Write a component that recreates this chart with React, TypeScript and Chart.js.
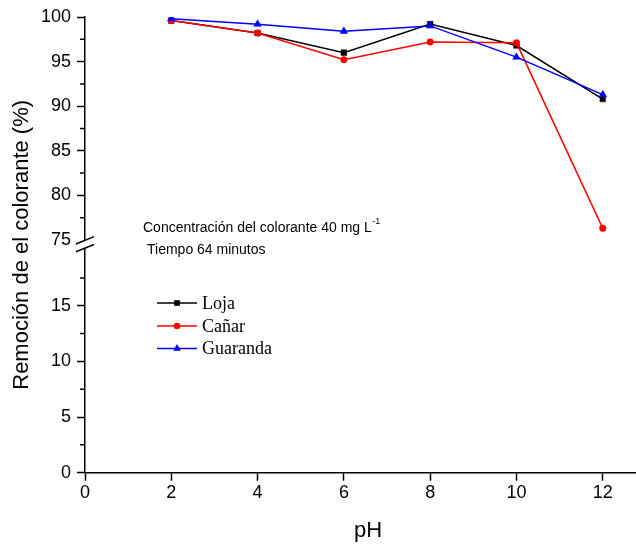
import React, { useEffect, useRef } from 'react';
import { Chart, registerables } from 'chart.js';

Chart.register(...registerables);

const phValues = [2, 4, 6, 8, 10, 12];
const lojaValues = [99.6, 98.2, 96.0, 99.2, 96.8, 90.8];
const canarValues = [99.6, 98.2, 95.2, 97.2, 97.1, 76.3];
const guarandaValues = [99.8, 99.2, 98.4, 99.0, 95.5, 91.3];

const seriesNames = ['Loja', 'Cañar', 'Guaranda'];
const seriesColors = ['#000000', '#ff0000', '#0000ff'];
const seriesMarkers = ['rect', 'circle', 'triangle'];

const xTickValues = [0, 2, 4, 6, 8, 10, 12];
const upperTickValues = [75, 80, 85, 90, 95, 100];
const lowerTickValues = [0, 5, 10, 15];
const upperMinorValues = [77.5, 82.5, 87.5, 92.5, 97.5];
const lowerMinorValues = [2.5, 7.5, 12.5, 17.5];

const yTitle = 'Remoción de el colorante (%)';
const xTitle = 'pH';
const noteLine1 = 'Concentración del colorante 40 mg L';
const noteSup = '-1';
const noteLine2 = 'Tiempo 64 minutos';

const SANS = '"Liberation Sans", Arial, sans-serif';
const SERIF = '"Liberation Serif", "Times New Roman", serif';

function drawMarker(ctx: CanvasRenderingContext2D, style: string, x: number, y: number, r: number, color: string) {
  ctx.save();
  ctx.fillStyle = color;
  ctx.beginPath();
  if (style === 'rect') {
    const s = r * Math.SQRT1_2;
    ctx.rect(x - s, y - s, 2 * s, 2 * s);
  } else if (style === 'circle') {
    ctx.arc(x, y, r, 0, Math.PI * 2);
  } else {
    const h = r;
    ctx.moveTo(x, y - h);
    ctx.lineTo(x + h * Math.cos(Math.PI / 6), y + h * 0.5);
    ctx.lineTo(x - h * Math.cos(Math.PI / 6), y + h * 0.5);
    ctx.closePath();
  }
  ctx.fill();
  ctx.restore();
}

const decorPlugin = {
  id: 'decor',
  afterDraw(chart: any) {
    const ctx: CanvasRenderingContext2D = chart.ctx;
    const area = chart.chartArea;
    const yTop = chart.scales.yTop;
    const yBot = chart.scales.yBot;
    const L = area.left;
    ctx.save();
    ctx.strokeStyle = '#000';
    ctx.lineWidth = 1.5;
    // minor ticks
    ctx.beginPath();
    upperMinorValues.forEach((v) => {
      const y = yTop.getPixelForValue(v);
      ctx.moveTo(L - 5, y);
      ctx.lineTo(L, y);
    });
    lowerMinorValues.forEach((v) => {
      const y = yBot.getPixelForValue(v);
      ctx.moveTo(L - 5, y);
      ctx.lineTo(L, y);
    });
    ctx.stroke();

    // axis break
    const c = yTop.bottom;
    ctx.fillStyle = '#fff';
    ctx.fillRect(L - 3, c - 4.5, 6, 8.5);
    ctx.beginPath();
    ctx.moveTo(L - 9, c - 0.8);
    ctx.lineTo(L + 9, c - 8.2);
    ctx.moveTo(L - 9, c + 6.9);
    ctx.lineTo(L + 9, c - 0.4);
    ctx.stroke();

    // titles
    ctx.fillStyle = '#000';
    ctx.font = `22px ${SANS}`;
    ctx.textAlign = 'center';
    ctx.textBaseline = 'middle';
    ctx.save();
    ctx.translate(22, (area.top + area.bottom) / 2);
    ctx.rotate(-Math.PI / 2);
    ctx.fillText(yTitle, 0, 0);
    ctx.restore();
    ctx.fillText(xTitle, 368, 531);

    // notes
    ctx.textAlign = 'left';
    ctx.font = `14px ${SANS}`;
    ctx.fillText(noteLine1, 143, 228);
    const w = ctx.measureText(noteLine1).width;
    ctx.font = `9px ${SANS}`;
    ctx.fillText(noteSup, 143 + w + 0.5, 222);
    ctx.font = `14px ${SANS}`;
    ctx.fillText(noteLine2, 147, 250);

    // legend
    const rows = [303, 326, 348.5];
    ctx.font = `18px ${SERIF}`;
    chart.data.datasets.forEach((ds: any, i: number) => {
      const y = rows[i];
      ctx.strokeStyle = ds.borderColor;
      ctx.lineWidth = 1.5;
      ctx.beginPath();
      ctx.moveTo(157, y);
      ctx.lineTo(197, y);
      ctx.stroke();
      drawMarker(ctx, ds.pointStyle, 177, y, ds.pointRadius, ds.borderColor);
      ctx.fillStyle = '#000';
      ctx.fillText(ds.label, 202, y + 1);
    });
    ctx.restore();
  },
};

function makeDataset(i: number, values: number[], radius: number, order: number) {
  return {
    label: seriesNames[i],
    data: phValues.map((x, k) => ({ x, y: values[k] })),
    xAxisID: 'x',
    yAxisID: 'yTop',
    borderColor: seriesColors[i],
    backgroundColor: seriesColors[i],
    pointBackgroundColor: seriesColors[i],
    pointBorderColor: seriesColors[i],
    pointStyle: seriesMarkers[i],
    pointRadius: radius,
    pointBorderWidth: 0.5,
    borderWidth: 1.5,
    tension: 0,
    fill: false,
    order,
  };
}

const tickFont = { family: SANS, size: 18 };

function axisGrid(hide75 = false) {
  return {
    drawOnChartArea: false,
    drawTicks: true,
    tickLength: 8,
    tickWidth: 1.5,
    tickColor: (ctx: any) => (hide75 && ctx.tick && ctx.tick.value === 75 ? 'rgba(0,0,0,0)' : '#000'),
  };
}

export default function App() {
  const ref = useRef<HTMLCanvasElement | null>(null);
  useEffect(() => {
    if (!ref.current) return;
    const chart = new Chart(ref.current, {
      type: 'line',
      data: {
        datasets: [
          makeDataset(0, lojaValues, 4, 3),
          makeDataset(1, canarValues, 3.3, 2),
          makeDataset(2, guarandaValues, 4.4, 1),
        ] as any,
      },
      options: {
        responsive: false,
        animation: false,
        devicePixelRatio: 1,
        layout: { autoPadding: false, padding: { top: 17, left: 0, right: 0, bottom: 0 } },
        plugins: { legend: { display: false }, tooltip: { enabled: false } },
        scales: {
          x: {
            type: 'linear',
            position: 'bottom',
            min: 0,
            max: 12.77,
            afterBuildTicks: (s: any) => {
              s.ticks = xTickValues.map((v) => ({ value: v }));
            },
            afterFit: (s: any) => {
              s.height = 71.3;
              s.paddingRight = 0;
              s.paddingLeft = 0;
            },
            grid: axisGrid(),
            border: { display: true, color: '#000', width: 1.5 },
            ticks: { font: tickFont, color: '#000', padding: 2, maxRotation: 0, autoSkip: false },
          },
          yTop: {
            type: 'linear',
            position: 'left',
            stack: 'y',
            stackWeight: 1,
            weight: 1,
            min: 74.45,
            max: 100,
            afterBuildTicks: (s: any) => {
              s.ticks = upperTickValues.map((v) => ({ value: v }));
            },
            afterFit: (s: any) => {
              s.width = 85;
            },
            grid: axisGrid(true),
            border: { display: true, color: '#000', width: 1.5 },
            ticks: { font: tickFont, color: '#000', padding: 6, autoSkip: false },
          },
          yBot: {
            type: 'linear',
            position: 'left',
            stack: 'y',
            stackWeight: 1,
            weight: 0,
            min: 0,
            max: 20.47,
            afterBuildTicks: (s: any) => {
              s.ticks = lowerTickValues.map((v) => ({ value: v }));
            },
            afterFit: (s: any) => {
              s.width = 85;
            },
            grid: axisGrid(),
            border: { display: true, color: '#000', width: 1.5 },
            ticks: { font: tickFont, color: '#000', padding: 6, autoSkip: false },
          },
        } as any,
      },
      plugins: [decorPlugin],
    });
    return () => chart.destroy();
  }, []);
  return (
    <div style={{ position: 'fixed', left: 0, top: 0, width: 636, height: 544, background: '#fff' }}>
      <canvas ref={ref} width={636} height={544} style={{ display: 'block' }} />
    </div>
  );
}
